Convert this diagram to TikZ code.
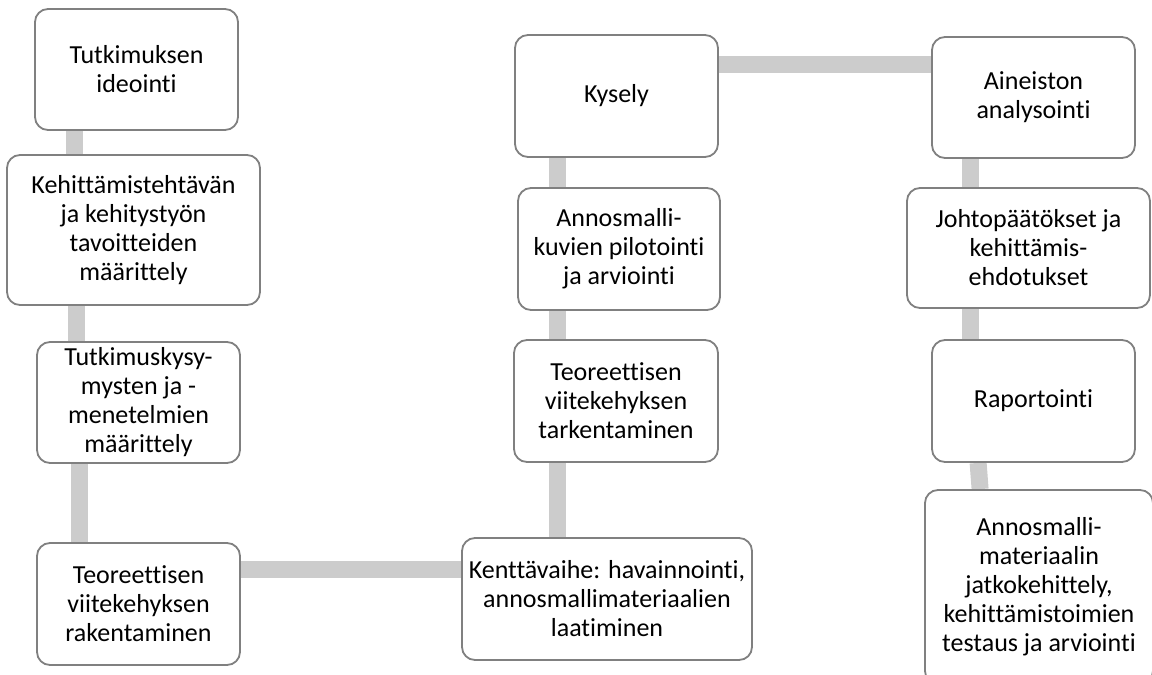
\documentclass[tikz,border=0pt]{standalone}
\usepackage{fontspec}
\setmainfont{Carlito}[Ligatures=NoCommon]
\usetikzlibrary{backgrounds}

\begin{document}
\begin{tikzpicture}[
x=1pt,
y=-1pt,
stage node/.style={rectangle,
								rounded corners=13pt,
								draw=black!50,
								line width=1.8pt,
								fill=white,
								align=center,
								inner sep=0pt,
								minimum width=203pt,
								minimum height=122pt,
								font=\fontsize{26}{29}\selectfont},
link/.style={draw=black!20,
								line width=17pt}]
\clip (0,0) rectangle (1152,675);
%1
  \node[stage node, minimum height=121pt] (t1) at (136.5,69.5) {Tutkimuksen\\ideointi};
%2
  \node[stage node, minimum width=253pt, minimum height=150pt] (t2) at (133.5,230) {Kehittämistehtävän\\ja kehitystyön\\tavoitteiden\\määrittely};
%3
  \node[stage node, minimum height=121pt] (t3) at (138.5,402.5) {Tutkimuskysy-\\mysten ja -\\menetelmien\\määrittely};
%4
  \node[stage node] (t4) at (138.5,604) {Teoreettisen\\viitekehyksen\\rakentaminen};
%5
  \node[stage node, minimum width=290pt] (t5) at (607,599) {Kenttävaihe: havainnointi,\\annosmallimateriaalien\\laatiminen};
%6
  \node[stage node, minimum width=204pt] (t6) at (616,401) {Teoreettisen\\viitekehyksen\\tarkentaminen};
%7
  \node[stage node, minimum width=202pt] (t7) at (619,249) {Annosmalli-\\kuvien pilotointi\\ja arviointi};
%8
  \node[stage node] (t8) at (616.5,96) {Kysely};
%9
  \node[stage node, minimum height=121pt] (t9) at (1033.5,97.5) {Aineiston\\analysointi};
%10
  \node[stage node, minimum width=243pt, minimum height=120pt] (t10) at (1028.5,248) {Johtopäätökset ja\\kehittämis-\\ehdotukset};
%11
  \node[stage node] (t11) at (1033.5,401) {Raportointi};
%12
  \node[stage node, minimum width=228pt, minimum height=194pt] (t12) at (1039,587) {Annosmalli-\\materiaalin\\jatkokehittely,\\kehittämistoimien\\testaus ja arviointi};
%paths
  \begin{scope}[on background layer]
    \draw[link] ([xshift=40pt]t1.south west) -- ([xshift=68pt]t2.north west);
    \draw[link] ([xshift=70pt]t2.south west) -- ([xshift=40pt]t3.north west);
    \draw[link] ([xshift=43pt]t3.south west) -- ([xshift=43pt]t4.north west);
    \draw[link] ([yshift=-27pt]t4.north east) -- ([yshift=-32pt]t5.north west);
    \draw[link] ([xshift=96pt]t5.north west) -- ([xshift=44pt]t6.south west);
    \draw[link] ([xshift=44pt]t6.north west) -- ([xshift=40pt]t7.south west);
    \draw[link] ([xshift=40pt]t7.north west) -- ([xshift=43pt]t8.south west);
    \draw[link] ([yshift=-30pt]t8.north east) -- ([yshift=-28pt]t9.north west);
    \draw[link] ([xshift=39pt]t9.south west) -- ([xshift=64pt]t10.north west);
    \draw[link] ([xshift=64pt]t10.south west) -- ([xshift=39pt]t11.north west);
    \draw[link] ([xshift=47pt]t11.south west) -- ([xshift=56pt]t12.north west);
  \end{scope}
\end{tikzpicture}
\end{document}
